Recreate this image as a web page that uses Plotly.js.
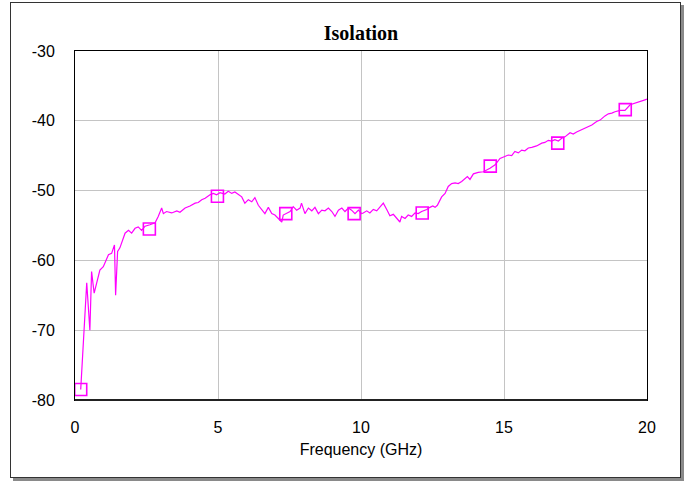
<!DOCTYPE html>
<html>
<head>
<meta charset="utf-8">
<script src="https://cdn.plot.ly/plotly-3.0.1.min.js"></script>
<style>
html,body{margin:0;padding:0;background:#fff;}
#wrap{position:relative;width:688px;height:482px;}
#chart{position:absolute;left:0;top:0;width:688px;height:482px;}
#frame{position:absolute;left:10px;top:2px;width:669px;height:474px;border:1px solid #333;box-shadow:3px 3px 0 #8a8a8a;pointer-events:none;}
</style>
</head>
<body>
<div id="wrap"><div id="chart"></div><div id="frame"></div></div>
<script>
const freqGHz = [0.20,0.41,0.52,0.58,0.67,0.76,0.87,0.99,1.10,1.17,1.28,1.38,1.42,1.49,1.57,1.69,1.75,1.87,1.98,2.10,2.21,2.33,2.45,2.62,2.80,2.91,3.03,3.09,3.20,3.38,3.56,3.67,3.85,4.02,4.20,4.31,4.43,4.55,4.72,4.84,4.95,5.07,5.24,5.36,5.48,5.59,5.71,5.83,5.94,6.06,6.18,6.29,6.41,6.53,6.64,6.76,6.88,6.99,7.11,7.23,7.28,7.40,7.52,7.63,7.75,7.87,7.92,8.04,8.16,8.28,8.39,8.51,8.63,8.74,8.86,8.98,9.09,9.21,9.33,9.44,9.56,9.67,9.79,9.91,10.02,10.08,10.20,10.31,10.43,10.55,10.66,10.78,10.90,11.01,11.13,11.25,11.36,11.42,11.54,11.65,11.77,11.89,12.00,12.12,12.30,12.41,12.51,12.59,12.67,12.82,12.94,13.05,13.17,13.29,13.40,13.52,13.64,13.72,13.81,13.93,14.10,14.28,14.51,14.69,14.86,15.03,15.15,15.27,15.38,15.50,15.62,15.73,15.85,15.97,16.14,16.32,16.43,16.55,16.67,16.78,16.90,17.02,17.13,17.31,17.42,17.54,17.72,17.83,17.95,18.07,18.24,18.36,18.53,18.65,18.77,18.88,19.06,19.23,19.41,19.58,19.76,19.93,20.00];
const isolationDB = [-78.5,-63.2,-70.0,-61.6,-64.7,-63.2,-61.4,-60.9,-60.0,-59.2,-59.0,-57.8,-65.0,-58.7,-58.2,-56.8,-56.1,-55.7,-56.1,-55.4,-55.2,-55.7,-55.1,-54.9,-54.6,-53.7,-52.5,-53.3,-53.0,-53.2,-52.9,-53.1,-52.5,-52.2,-51.8,-51.7,-51.3,-51.1,-50.6,-50.4,-50.6,-50.3,-50.5,-50.1,-50.4,-50.2,-50.6,-50.9,-51.8,-51.3,-51.6,-51.0,-52.1,-52.8,-53.3,-52.4,-53.3,-53.5,-54.0,-54.5,-53.5,-53.3,-53.0,-52.3,-52.8,-52.5,-51.8,-53.3,-52.5,-52.9,-52.4,-53.3,-52.8,-52.9,-52.5,-53.0,-53.7,-52.8,-52.5,-53.0,-52.5,-52.8,-53.3,-52.8,-53.3,-53.2,-52.9,-53.2,-52.7,-52.9,-52.3,-51.8,-52.7,-53.6,-53.4,-54.0,-54.5,-53.7,-54.0,-53.5,-53.7,-53.2,-53.3,-53.0,-52.7,-52.4,-52.2,-52.4,-52.1,-50.9,-50.4,-49.4,-49.0,-48.9,-49.0,-48.7,-48.2,-48.0,-48.4,-47.6,-47.4,-47.3,-46.8,-46.3,-45.4,-45.1,-44.9,-45.0,-44.4,-44.6,-44.2,-44.3,-43.9,-43.8,-43.6,-43.2,-43.1,-42.8,-42.9,-42.7,-42.9,-42.5,-42.3,-41.7,-41.9,-41.6,-41.3,-41.1,-40.8,-40.6,-40.1,-39.9,-39.3,-39.0,-38.9,-38.7,-38.5,-38.5,-37.7,-37.5,-37.3,-37.0,-36.9];
const markerGHz = [0.20,2.60,4.98,7.37,9.76,12.14,14.52,16.88,19.24];
const markerDB = [-78.5,-55.5,-50.8,-53.3,-53.3,-53.2,-46.5,-43.2,-38.4];
const xTickVals = [0,5,10,15,20];
const xTickLabels = ['0','5','10','15','20'];
const yTickVals = [-80,-70,-60,-50,-40,-30];
const yTickLabels = ['-80','-70','-60','-50','-40','-30'];

const traces = [
  {x: freqGHz, y: isolationDB, type:'scatter', mode:'lines',
   line:{color:'#ff00ff', width:1.2}, showlegend:false, hoverinfo:'skip'},
  {x: markerGHz, y: markerDB, type:'scatter', mode:'markers',
   marker:{symbol:'square-open', size:12, color:'#ff00ff', line:{color:'#ff00ff', width:1.6}},
   showlegend:false, hoverinfo:'skip'}
];
const layout = {
  width:688, height:482,
  margin:{l:75, r:41, t:51, b:82, pad:0},
  paper_bgcolor:'rgba(0,0,0,0)', plot_bgcolor:'#ffffff',
  title:{text:'<b>Isolation</b>', font:{family:'Liberation Serif, Times New Roman, serif', size:20, color:'#000'},
         x:0.5, xref:'paper', xanchor:'center', y:1, yref:'container', yanchor:'top', pad:{t:26}},
  xaxis:{range:[0,20], tickvals:xTickVals, ticktext:xTickLabels, showgrid:true, gridcolor:'#c4c4c4', gridwidth:1,
         showline:true, linecolor:'#000', linewidth:1, mirror:true, zeroline:false, ticks:'',
         ticklabelstandoff:13,
         tickfont:{family:'Liberation Sans, Arial, sans-serif', size:16, color:'#000'},
         title:{text:'Frequency (GHz)', standoff:8, font:{family:'Liberation Sans, Arial, sans-serif', size:16, color:'#000'}}},
  yaxis:{range:[-80,-30], tickvals:yTickVals, ticktext:yTickLabels, showgrid:true, gridcolor:'#c4c4c4', gridwidth:1,
         showline:true, linecolor:'#000', linewidth:1, mirror:true, zeroline:false, ticks:'',
         ticklabelstandoff:16,
         tickfont:{family:'Liberation Sans, Arial, sans-serif', size:16, color:'#000'}},
  shapes:[{type:'line', xref:'paper', yref:'paper', x0:0, x1:1, y0:0, y1:0, line:{color:'#222', width:2}}]
};
Plotly.newPlot('chart', traces, layout, {displayModeBar:false, staticPlot:true});
</script>
</body>
</html>
